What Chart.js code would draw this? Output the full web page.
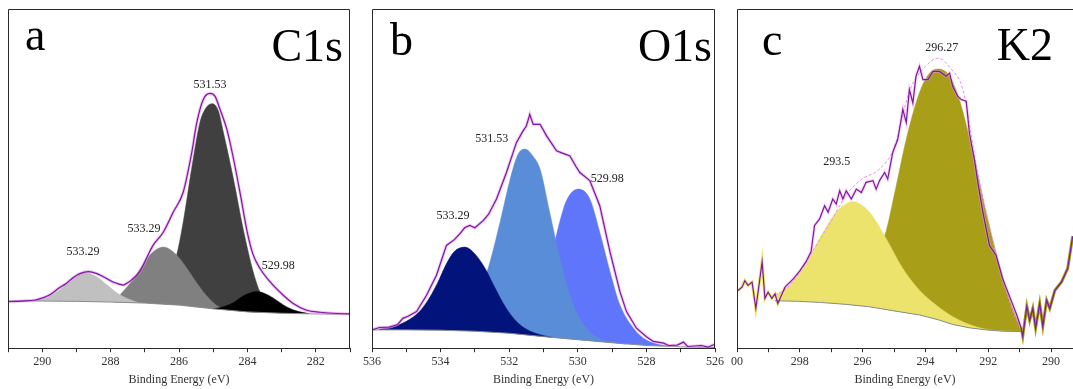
<!DOCTYPE html>
<html>
<head>
<meta charset="utf-8">
<script src="https://cdn.jsdelivr.net/npm/chart.js"></script>
<style>
  html, body { margin: 0; padding: 0; background: #fff; }
  #wrap { position: relative; width: 1073px; height: 389px; overflow: hidden; }
  canvas { position: absolute; top: 0; }
</style>
</head>
<body>
<div id="wrap">
  <canvas id="pa" width="362" height="389" style="left:0px"></canvas>
  <canvas id="pb" width="367" height="389" style="left:360px"></canvas>
  <canvas id="pc" width="348" height="389" style="left:725px"></canvas>
</div>
<script>
// ---- panel a : C1s ----
const baseAx = [291, 290, 289, 288, 287, 286, 285, 284, 283, 282, 281];
const baseAy = [14.0, 13.9, 13.8, 13.6, 13.3, 12.7, 11.6, 10.7, 10.3, 10.1, 10.0];
const lightAx = [290.3, 290.0, 289.7, 289.4, 289.1, 288.75, 288.4, 288.1, 287.8, 287.5, 287.2];
const lightAy = [14.0, 14.4, 15.8, 18.0, 20.6, 22.3, 21.0, 18.6, 16.2, 14.6, 13.5];
const midAx = [287.9, 287.7, 287.4, 287.1, 286.8, 286.46, 286.1, 285.8, 285.5, 285.2, 284.9, 284.6];
const midAy = [13.6, 16.0, 19.5, 24.0, 28.0, 29.8, 27.8, 24.0, 19.5, 15.5, 12.6, 11.3];
const darkAx = [286.7, 286.35, 286.07, 285.88, 285.63, 285.39, 285.2, 285.03, 284.85, 284.71, 284.41, 284.12, 283.83, 283.63, 283.35, 283.0];
const darkAy = [13.0, 19.0, 27.4, 37.0, 53.0, 66.5, 71.0, 72.1, 70.0, 64.0, 50.0, 35.0, 22.5, 16.5, 12.2, 10.4];
const blackAx = [285.0, 284.7, 284.4, 284.1, 283.72, 283.4, 283.1, 282.8, 282.5, 282.2];
const blackAy = [11.6, 12.2, 13.5, 15.5, 16.7, 15.7, 13.8, 11.9, 10.8, 10.2];
const rawAx = [291.0, 290.6, 290.2, 290.0, 289.8, 289.5, 289.3, 289.1, 288.9, 288.65, 288.4, 288.2, 287.93, 287.75, 287.63, 287.5, 287.4, 287.15, 286.95, 286.76, 286.46, 286.17, 285.88, 285.63, 285.49, 285.29, 285.1, 284.95, 284.8, 284.6, 284.41, 284.2, 284.0, 283.83, 283.63, 283.34, 282.95, 282.66, 282.27, 281.88, 281.5, 281.0];
const rawAy = [13.7, 13.9, 14.2, 14.8, 15.6, 17.8, 19.1, 20.8, 22.0, 22.6, 22.0, 21.0, 19.5, 18.9, 18.6, 19.3, 20.0, 22.5, 26.5, 30.3, 34.2, 40.1, 45.9, 57.5, 66.0, 73.3, 75.1, 74.3, 70.4, 64.5, 56.0, 45.0, 34.0, 27.5, 23.5, 19.6, 15.6, 13.2, 11.2, 10.6, 10.3, 10.1];
const ticksA = [290, 288, 286, 284, 282];
const peakTextA = ['531.53', '533.29', '533.29', '529.98'];
const peakTextAx = [285.09, 287.02, 288.81, 283.1];
const peakTextAy = [77.7, 35.2, 28.4, 24.3];

// ---- panel b : O1s ----
const baseBx = [536, 535, 534, 533, 532, 531, 530, 529, 528, 527, 526];
const baseBy = [5.4, 5.4, 5.3, 5.0, 4.4, 3.4, 2.5, 1.6, 0.8, 0.4, 0.2];
const navyBx = [535.8, 535.4, 535.1, 534.7, 534.41, 534.1, 533.85, 533.6, 533.3, 533.0, 532.7, 532.4, 532.1, 531.8, 531.5, 531.1, 530.7];
const navyBy = [5.6, 6.2, 7.4, 10.0, 13.5, 19.0, 24.5, 28.5, 29.8, 27.8, 23.5, 17.5, 12.0, 8.0, 5.6, 4.0, 3.1];
const skyBx = [533.6, 533.2, 532.9, 532.6, 532.27, 531.98, 531.75, 531.54, 531.3, 531.1, 530.82, 530.52, 530.13, 529.75, 529.36, 528.97, 528.6];
const skyBy = [6.5, 10.0, 15.5, 24.0, 37.0, 49.5, 57.0, 58.7, 56.5, 52.8, 40.1, 26.4, 12.7, 5.9, 2.8, 1.7, 1.2];
const blueBx = [531.8, 531.5, 531.2, 530.95, 530.67, 530.52, 530.33, 529.99, 529.65, 529.36, 529.06, 528.77, 528.38, 528.0, 527.6, 527.2];
const blueBy = [4.5, 7.5, 13.0, 21.0, 31.3, 37.5, 43.5, 46.9, 44.0, 34.2, 22.5, 12.7, 5.9, 2.4, 1.0, 0.5];
const rawBx = [536.0, 535.78, 535.5, 535.25, 535.1, 534.95, 534.7, 534.41, 534.12, 533.83, 533.6, 533.44, 533.3, 533.15, 533.0, 532.76, 532.6, 532.37, 532.08, 531.79, 531.6, 531.5, 531.4, 531.3, 531.1, 530.91, 530.62, 530.45, 530.23, 530.05, 529.94, 529.65, 529.36, 529.06, 528.77, 528.58, 528.29, 528.0, 527.8, 527.5, 527.35, 527.1, 526.92, 526.8, 526.4, 526.2, 526.05, 526.0];
const rawBy = [5.4, 6.1, 6.2, 7.0, 8.8, 9.4, 10.8, 15.6, 21.5, 30.3, 32.0, 33.7, 35.5, 36.2, 35.5, 37.6, 39.5, 44.0, 51.8, 60.6, 64.0, 65.5, 68.9, 66.0, 66.0, 62.6, 58.2, 57.5, 56.7, 53.5, 51.8, 49.4, 42.0, 28.3, 16.6, 10.8, 5.9, 3.4, 2.0, 1.5, 0.8, 0.9, 1.8, 0.5, 0.8, 0.3, 1.0, 0.9];
const ticksB = [536, 534, 532, 530, 528, 526];
const peakTextB = ['531.53', '529.98', '533.29'];
const peakTextBx = [532.51, 529.14, 533.64];
const peakTextBy = [61.6, 49.9, 39.0];

// ---- panel c : K2 ----
const baseCx = [298.8, 298.0, 297.37, 296.5, 295.78, 295.0, 294.19, 293.6, 293.13, 292.6, 292.07, 291.5, 290.9];
const baseCy = [14.0, 13.8, 13.5, 12.9, 12.2, 11.0, 9.8, 8.4, 7.0, 6.0, 5.4, 5.0, 4.9];
const yellowCx = [298.8, 298.43, 297.9, 297.37, 296.84, 296.31, 295.78, 295.25, 294.72, 294.19, 293.66, 293.13, 292.6, 292.07, 291.54, 290.9];
const yellowCy = [15.6, 17.6, 23.5, 32.3, 40.1, 43.2, 40.1, 32.3, 23.5, 17.1, 12.7, 9.3, 7.0, 5.6, 5.1, 4.9];
const oliveCx = [297.0, 296.31, 295.78, 295.3, 294.93, 294.61, 294.19, 293.87, 293.6, 293.23, 292.92, 292.49, 292.07, 291.64, 291.22, 290.9];
const oliveCy = [14.0, 18.0, 25.0, 33.0, 47.9, 61.6, 75.3, 81.1, 82.3, 80.2, 73.3, 57.7, 40.1, 24.4, 11.7, 4.9];
const fitCx = [298.8, 298.4, 298.0, 297.5, 297.0, 296.5, 296.0, 295.5, 295.0, 294.5, 294.0, 293.6, 293.2, 292.8, 292.4, 292.0, 291.6, 291.2, 290.9];
const fitCy = [15.6, 17.8, 22.5, 30.0, 37.5, 45.5, 50.0, 52.5, 59.0, 76.0, 83.0, 85.5, 82.5, 76.0, 55.0, 37.5, 22.5, 10.5, 5.0];
const rawCx = [299.97, 299.84, 299.75, 299.65, 299.52, 299.4, 299.3, 299.2, 299.11, 299.01, 298.89, 298.79, 298.7, 298.47, 298.2, 298.0, 297.8, 297.64, 297.53, 297.37, 297.21, 297.1, 296.95, 296.84, 296.73, 296.63, 296.52, 296.36, 296.2, 296.04, 295.89, 295.67, 295.57, 295.46, 295.3, 295.2, 295.04, 294.88, 294.72, 294.61, 294.51, 294.4, 294.3, 294.19, 294.08, 293.92, 293.76, 293.55, 293.34, 293.23, 293.13, 292.97, 292.86, 292.7, 292.6, 292.44, 292.33, 292.17, 291.96, 291.75, 291.54, 291.33, 291.1, 290.95, 290.9, 290.77, 290.68, 290.58, 290.49, 290.36, 290.26, 290.14, 290.04, 289.88, 289.66, 289.47, 289.31];
const rawCy = [17.0, 18.0, 19.9, 18.5, 19.5, 11.7, 18.5, 25.5, 14.7, 16.5, 14.7, 16.0, 13.2, 18.0, 20.5, 22.8, 25.5, 28.5, 36.2, 38.1, 42.0, 40.1, 44.0, 42.5, 46.4, 44.0, 46.4, 44.0, 46.9, 45.9, 48.9, 49.4, 46.9, 49.4, 51.8, 49.9, 57.7, 61.6, 70.4, 66.5, 76.2, 72.3, 80.2, 83.1, 79.2, 79.2, 81.6, 81.6, 80.2, 81.1, 77.2, 74.3, 73.3, 72.8, 63.5, 55.7, 48.9, 40.1, 30.3, 27.4, 20.5, 15.5, 10.0, 6.0, 3.5, 12.3, 8.2, 11.7, 5.9, 13.2, 6.5, 14.1, 11.7, 17.0, 19.6, 23.5, 33.0];
const ticksC = [300, 298, 296, 294, 292, 290];
const tickTextC = ['00', '298', '296', '294', '292', '290'];
const peakTextC = ['296.27', '293.5'];
const peakTextCx = [293.48, 296.82];
const peakTextCy = [88.6, 54.8];

const PURPLE = '#7b1a9e';
const SERIF = '"Liberation Serif", "Times New Roman", serif';

function pts(xs, ys) {
	return xs.map((x, i) => ({ x, y: ys[i] }));
}

function peak(xs, ys, color, order) {
	return {
		data: pts(xs, ys),
		borderColor: color,
		borderWidth: 0.5,
		backgroundColor: color,
		fill: 0,
		order,
		pointRadius: 0,
		cubicInterpolationMode: 'monotone'
	};
}

function line(xs, ys, color, width, order, extra) {
	return Object.assign({
		data: pts(xs, ys),
		borderColor: color,
		borderWidth: width,
		fill: false,
		order,
		pointRadius: 0,
		tension: 0
	}, extra || {});
}

// frame, big letters and peak labels
const decor = {
	id: 'decor',
	afterDraw(chart, args, opts) {
		const { ctx, chartArea: a, scales } = chart;
		ctx.save();
		ctx.strokeStyle = '#2a2a2a';
		ctx.lineWidth = 1;
		ctx.beginPath();
		ctx.moveTo(a.left + 0.5, a.bottom);
		ctx.lineTo(a.left + 0.5, a.top + 0.5);
		if (opts.right) {
			ctx.lineTo(a.right - 0.5, a.top + 0.5);
			ctx.lineTo(a.right - 0.5, a.bottom);
		} else {
			ctx.lineTo(a.right, a.top + 0.5);
		}
		ctx.stroke();

		ctx.fillStyle = '#000';
		ctx.font = '46px ' + SERIF;
		ctx.textBaseline = 'alphabetic';
		ctx.textAlign = 'left';
		ctx.fillText(opts.letter, a.left + opts.letterDx, a.top + opts.letterDy);
		ctx.textAlign = 'right';
		ctx.fillText(opts.title, a.right + opts.titleDx, a.top + opts.titleDy);

		ctx.font = '12px ' + SERIF;
		ctx.fillStyle = '#222';
		ctx.textAlign = 'center';
		ctx.textBaseline = 'middle';
		opts.texts.forEach((t, i) => {
			ctx.fillText(t, scales.x.getPixelForValue(opts.tx[i]), scales.y.getPixelForValue(opts.ty[i]));
		});
		ctx.restore();
	}
};

function makePanel(id, cfg) {
	new Chart(document.getElementById(id), {
		type: 'line',
		data: { datasets: cfg.datasets },
		options: {
			responsive: false,
			animation: false,
			events: [],
			layout: { padding: cfg.padding },
			plugins: {
				legend: { display: false },
				tooltip: { enabled: false },
				decor: cfg.decor
			},
			scales: {
				x: {
					type: 'linear',
					reverse: true,
					min: cfg.min,
					max: cfg.max,
					grid: { drawOnChartArea: false, tickLength: 4, tickColor: '#2a2a2a', tickWidth: 1 },
					border: { display: true, color: '#2a2a2a', width: 1 },
					ticks: {
						stepSize: 1,
						includeBounds: false,
						autoSkip: false,
						maxRotation: 0,
						padding: 2,
						color: '#333',
						font: { family: SERIF, size: 12 },
						callback: (v) => {
							const k = cfg.ticks.indexOf(v);
							return k < 0 ? '' : (cfg.tickText ? cfg.tickText[k] : String(v));
						}
					},
					title: {
						display: true,
						text: 'Binding Energy (eV)',
						color: '#333',
						font: { family: SERIF, size: 12 },
						padding: { top: 2, bottom: 2 }
					}
				},
				y: { display: false, min: 0, max: 100 }
			}
		},
		plugins: [decor]
	});
}

makePanel('pa', {
	min: 281, max: 291, ticks: ticksA,
	padding: { left: 8, right: 12, top: 9, bottom: 0 },
	decor: { right: true, letter: 'a', letterDx: 17, letterDy: 41, title: 'C1s', titleDx: -7, titleDy: 52,
		texts: peakTextA, tx: peakTextAx, ty: peakTextAy },
	datasets: [
		line(baseAx, baseAy, '#8c8c8c', 1, 2),
		peak(darkAx, darkAy, '#404040', 7),
		peak(midAx, midAy, '#808080', 6),
		peak(lightAx, lightAy, '#c0c0c0', 5),
		peak(blackAx, blackAy, '#000000', 4),
		line(rawAx, rawAy, 'rgba(225,140,230,0.55)', 3, 1, { cubicInterpolationMode: 'monotone' }),
		line(rawAx, rawAy, PURPLE, 1.2, 0, { cubicInterpolationMode: 'monotone' })
	]
});

makePanel('pb', {
	min: 526, max: 536, ticks: ticksB,
	padding: { left: 12, right: 12, top: 9, bottom: 0 },
	decor: { right: true, letter: 'b', letterDx: 18, letterDy: 46, title: 'O1s', titleDx: -3, titleDy: 52,
		texts: peakTextB, tx: peakTextBx, ty: peakTextBy },
	datasets: [
		line(baseBx, baseBy, '#8c8c8c', 1, 2),
		peak(blueBx, blueBy, '#5f76fb', 6),
		peak(skyBx, skyBy, '#5a8dd8', 5),
		peak(navyBx, navyBy, '#03137c', 4),
		line(rawBx, rawBy, 'rgba(225,140,230,0.55)', 3, 1),
		line(rawBx, rawBy, PURPLE, 1.2, 0)
	]
});

makePanel('pc', {
	min: 289.3, max: 300, ticks: ticksC, tickText: tickTextC,
	padding: { left: 12, right: 0, top: 9, bottom: 0 },
	decor: { right: false, letter: 'c', letterDx: 25, letterDy: 46, title: 'K2', titleDx: -20, titleDy: 51,
		texts: peakTextC, tx: peakTextCx, ty: peakTextCy },
	datasets: [
		line(baseCx, baseCy, '#8c8c8c', 1, 3),
		peak(oliveCx, oliveCy, '#a89e18', 6),
		peak(yellowCx, yellowCy, '#ebe36c', 5),
		line(rawCx, rawCy, '#ebe36c', 3, 4, {
			segment: {
				borderColor: (c) => c.p0.parsed.x > 298.6 ? '#ebe36c' : (c.p0.parsed.x < 291 ? '#a89e18' : 'rgba(235,160,235,0.45)')
			}
		}),
		line(fitCx, fitCy, '#ee88ee', 1, 2, { borderDash: [3, 2], cubicInterpolationMode: 'monotone' }),
		line(rawCx, rawCy, PURPLE, 1.2, 0)
	]
});
</script>
</body>
</html>
